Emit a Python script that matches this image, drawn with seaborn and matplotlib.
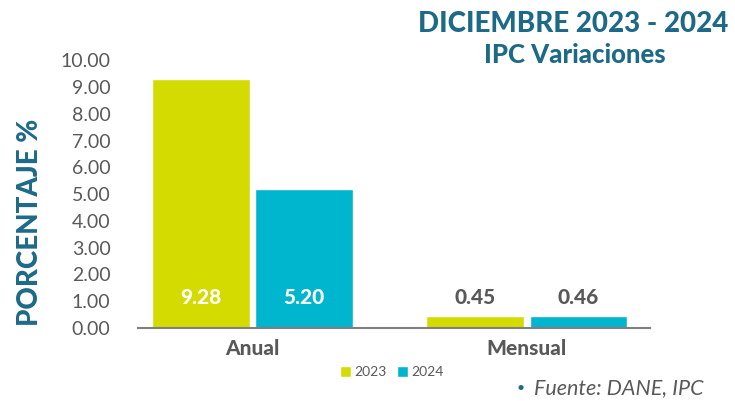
import matplotlib
matplotlib.use("Agg")
import matplotlib.pyplot as plt
import seaborn as sns
import pandas as pd

# datos
categorias = ["Anual", "Mensual"]
anios = ["2023", "2024"]
valores_2023 = [9.28, 0.45]
valores_2024 = [5.20, 0.46]
ticks_y = [0, 1, 2, 3, 4, 5, 6, 7, 8, 9, 10]

colores = {"2023": "#D4DB00", "2024": "#00B5CE"}
azul = "#1D6A88"
gris = "#595959"

df = pd.DataFrame({
    "categoria": categorias * 2,
    "anio": [anios[0]] * 2 + [anios[1]] * 2,
    "valor": valores_2023 + valores_2024,
})

sns.set_style("white")
plt.rcParams["font.family"] = ["Lato", "DejaVu Sans"]

fig = plt.figure(figsize=(7.35, 4.01), dpi=100)
ax = fig.add_axes([0.188, 0.182, 0.696, 0.668])

sns.barplot(
    data=df, x="categoria", y="valor", hue="anio", hue_order=anios,
    order=categorias, palette=colores, width=0.75, gap=0.05,
    saturation=1, ax=ax, legend=True,
)

ax.set_ylim(0, 10)
ax.set_xlim(-0.415, 1.447)
ax.set_yticks(ticks_y)
ax.set_yticklabels([f"{t:.2f}" for t in ticks_y], color=gris, fontsize=14)
ax.tick_params(axis="y", length=0, pad=20)
ax.tick_params(axis="x", length=0, pad=8)
for lbl in ax.get_xticklabels():
    lbl.set_fontweight("black")
    lbl.set_fontsize(15)
    lbl.set_color(gris)

ax.set_xlabel("")
ax.set_ylabel("")
for s in ["top", "right", "left"]:
    ax.spines[s].set_visible(False)
ax.spines["bottom"].set_color("#7f7f7f")
ax.spines["bottom"].set_linewidth(1.5)

# etiquetas de valores, todas a la misma altura
for cont, anio in zip(ax.containers, anios):
    for rect, cat in zip(cont.patches, categorias):
        v = rect.get_height()
        cx = rect.get_x() + rect.get_width() / 2
        col = "white" if cat == "Anual" else gris
        ax.text(cx, 1.15, f"{v:.2f}", ha="center", va="center",
                fontsize=15, fontweight="black", color=col)

# leyenda
handles, labels = ax.get_legend_handles_labels()
ax.legend(handles, labels, loc="center", bbox_to_anchor=(0.533, 0.072),
          bbox_transform=fig.transFigure, ncol=2, frameon=False,
          fontsize=10, handlelength=0.8, handleheight=0.8, handletextpad=0.2,
          columnspacing=0.8, labelcolor=gris)

fig.text(0.78, 0.94, "DICIEMBRE 2023 - 2024", ha="center", va="center",
         fontsize=20, fontweight="black", color=azul)
fig.text(0.782, 0.862, "IPC Variaciones", ha="center", va="center",
         fontsize=18.5, fontweight="black", color=azul)
fig.text(0.041, 0.445, "PORCENTAJE %", rotation=90, ha="center", va="center",
         fontsize=20, fontweight="black", color=azul)
fig.text(0.703, 0.032, "•", ha="left", va="center", fontsize=10, color=azul)
fig.text(0.727, 0.032, "Fuente: DANE, IPC", ha="left", va="center",
         fontsize=15.5, style="italic", color=gris)

fig.savefig("out.png", dpi=100)
